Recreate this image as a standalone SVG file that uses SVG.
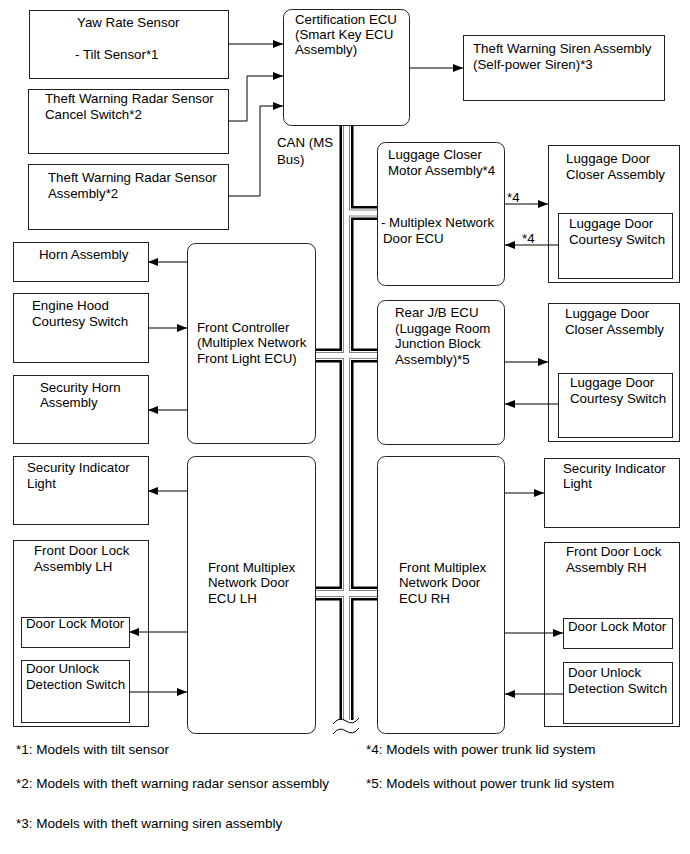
<svg xmlns="http://www.w3.org/2000/svg" width="690" height="854" viewBox="0 0 690 854">
<defs>
<style>
.b{fill:#fff;stroke:#222;stroke-width:1}
.t{font-family:"Liberation Sans",Arial,sans-serif;font-size:13.3px;fill:#000}
.f{font-family:"Liberation Sans",Arial,sans-serif;font-size:13.5px;fill:#000}
.c{fill:none;stroke:#000;stroke-width:1}
.bus{fill:none}
</style>
<marker id="ah" markerUnits="userSpaceOnUse" markerWidth="10" markerHeight="8" refX="10" refY="4" orient="auto">
<path d="M0,0 L10,4 L0,8 z" fill="#000"/>
</marker>
</defs>
<rect width="690" height="854" fill="#fff"/>
<g id="yaw"><rect class="b" x="29.5" y="10.5" width="199" height="68"/><text class="t" x="77" y="27">Yaw Rate Sensor</text><text class="t" x="75" y="59">- Tilt Sensor*1</text></g>
<g id="cancel"><rect class="b" x="28.5" y="89.5" width="200" height="64"/><text class="t" x="45" y="103">Theft Warning Radar Sensor</text><text class="t" x="45" y="119">Cancel Switch*2</text></g>
<g id="radar"><rect class="b" x="28.5" y="164.5" width="200" height="65"/><text class="t" x="48" y="182">Theft Warning Radar Sensor</text><text class="t" x="48" y="198">Assembly*2</text></g>
<g id="cert"><rect class="b" x="283.5" y="9.5" width="126" height="116" rx="8"/><text class="t" x="295" y="24">Certification ECU</text><text class="t" x="295" y="39">(Smart Key ECU</text><text class="t" x="295" y="54">Assembly)</text></g>
<g id="can"><text class="t" x="277" y="147">CAN (MS</text><text class="t" x="277" y="164">Bus)</text></g>
<g id="siren"><rect class="b" x="463.5" y="35.5" width="201" height="65"/><text class="t" x="473" y="53">Theft Warning Siren Assembly</text><text class="t" x="473" y="69">(Self-power Siren)*3</text></g>
<g id="lcm"><rect class="b" x="377.5" y="142.5" width="127" height="143" rx="8"/><text class="t" x="388" y="159">Luggage Closer</text><text class="t" x="388" y="175">Motor Assembly*4</text><text class="t" x="381" y="227">- Multiplex Network</text><text class="t" x="383" y="243">Door ECU</text></g>
<g id="ldca1"><rect class="b" x="548.5" y="145.5" width="131" height="137"/><text class="t" x="566" y="163">Luggage Door</text><text class="t" x="566" y="179">Closer Assembly</text></g>
<g id="ldcs1"><rect class="b" x="558.5" y="213.5" width="114" height="65"/><text class="t" x="569" y="228">Luggage Door</text><text class="t" x="569" y="244">Courtesy Switch</text></g>
<g id="rearjb"><rect class="b" x="377.5" y="300.5" width="127" height="144" rx="8"/><text class="t" x="395" y="317">Rear J/B ECU</text><text class="t" x="395" y="333">(Luggage Room</text><text class="t" x="395" y="348">Junction Block</text><text class="t" x="395" y="364">Assembly)*5</text></g>
<g id="ldca2"><rect class="b" x="548.5" y="303.5" width="131" height="138"/><text class="t" x="565" y="318">Luggage Door</text><text class="t" x="565" y="334">Closer Assembly</text></g>
<g id="ldcs2"><rect class="b" x="558.5" y="373.5" width="114" height="64"/><text class="t" x="570" y="387">Luggage Door</text><text class="t" x="570" y="403">Courtesy Switch</text></g>
<g id="horn"><rect class="b" x="13.5" y="242.5" width="135" height="39"/><text class="t" x="39" y="259">Horn Assembly</text></g>
<g id="hood"><rect class="b" x="13.5" y="293.5" width="135" height="69"/><text class="t" x="32" y="310">Engine Hood</text><text class="t" x="32" y="326">Courtesy Switch</text></g>
<g id="sechorn"><rect class="b" x="13.5" y="375.5" width="135" height="68"/><text class="t" x="40" y="392">Security Horn</text><text class="t" x="40" y="407">Assembly</text></g>
<g id="fc"><rect class="b" x="187.5" y="243.5" width="128" height="200" rx="8"/><text class="t" x="197" y="332">Front Controller</text><text class="t" x="197" y="347">(Multiplex Network</text><text class="t" x="197" y="363">Front Light ECU)</text></g>
<g id="secindl"><rect class="b" x="13.5" y="456.5" width="135" height="68"/><text class="t" x="27" y="472">Security Indicator</text><text class="t" x="27" y="488">Light</text></g>
<g id="fdlal"><rect class="b" x="13.5" y="540.5" width="135" height="186"/><text class="t" x="34" y="555">Front Door Lock</text><text class="t" x="34" y="571">Assembly LH</text></g>
<g id="dlml"><rect class="b" x="21.5" y="617.5" width="108" height="30"/><text class="t" x="26" y="628">Door Lock Motor</text></g>
<g id="dudsl"><rect class="b" x="21.5" y="660.5" width="108" height="62"/><text class="t" x="26" y="673">Door Unlock</text><text class="t" x="26" y="689">Detection Switch</text></g>
<g id="lhecu"><rect class="b" x="187.5" y="456.5" width="128" height="277" rx="8"/><text class="t" x="208" y="572">Front Multiplex</text><text class="t" x="208" y="587">Network Door</text><text class="t" x="208" y="603">ECU LH</text></g>
<g id="rhecu"><rect class="b" x="377.5" y="456.5" width="127" height="277" rx="8"/><text class="t" x="399" y="572">Front Multiplex</text><text class="t" x="399" y="587">Network Door</text><text class="t" x="399" y="603">ECU RH</text></g>
<g id="secindr"><rect class="b" x="544.5" y="458.5" width="135" height="69"/><text class="t" x="563" y="473">Security Indicator</text><text class="t" x="563" y="488">Light</text></g>
<g id="fdlar"><rect class="b" x="544.5" y="542.5" width="135" height="184"/><text class="t" x="566" y="556">Front Door Lock</text><text class="t" x="566" y="572">Assembly RH</text></g>
<g id="dlmr"><rect class="b" x="563.5" y="618.5" width="109" height="30"/><text class="t" x="568" y="631">Door Lock Motor</text></g>
<g id="dudsr"><rect class="b" x="563.5" y="662.5" width="109" height="61"/><text class="t" x="568" y="677">Door Unlock</text><text class="t" x="568" y="693">Detection Switch</text></g>
<g id="notes">
<text class="f" x="16" y="754">*1: Models with tilt sensor</text>
<text class="f" x="16" y="788">*2: Models with theft warning radar sensor assembly</text>
<text class="f" x="16" y="828">*3: Models with theft warning siren assembly</text>
<text class="f" x="366" y="754">*4: Models with power trunk lid system</text>
<text class="f" x="366" y="788">*5: Models without power trunk lid system</text>
</g>
<g id="connectors">
<g id="bus">
<path class="bus" stroke="#000" stroke-width="14" d="M346.5,126 V720 M346.5,213 H377 M316,355.5 H377 M316,593.5 H377"/>
<path class="bus" stroke="#fff" stroke-width="9" d="M346.5,126 V720 M346.5,213 H377 M316,355.5 H377 M316,593.5 H377"/>
<path class="bus" stroke="#888" stroke-width="7" d="M346.5,126 V720 M346.5,213 H377 M316,355.5 H377 M316,593.5 H377"/>
<path class="bus" stroke="#fff" stroke-width="5" d="M346.5,126 V720 M346.5,213 H377 M316,355.5 H377 M316,593.5 H377"/>
<path class="c" d="M333,724 Q339,716 346,721 T359,718"/>
<path class="c" d="M333,734 Q339,726 346,731 T359,728"/>
</g>
<path class="c" marker-end="url(#ah)" d="M228,44 H283"/>
<path class="c" marker-end="url(#ah)" d="M228,121 H247 V76 H283"/>
<path class="c" marker-end="url(#ah)" d="M228,196 H260 V106 H283"/>
<path class="c" marker-end="url(#ah)" d="M410,68 H463"/>
<path class="c" marker-end="url(#ah)" d="M505,204 H548"/>
<text class="t" x="507" y="202">*4</text>
<path class="c" marker-end="url(#ah)" d="M558,245 H505"/>
<text class="t" x="522" y="243">*4</text>
<path class="c" marker-end="url(#ah)" d="M505,362 H548"/>
<path class="c" marker-end="url(#ah)" d="M558,404 H505"/>
<path class="c" marker-end="url(#ah)" d="M187,262 H148"/>
<path class="c" marker-end="url(#ah)" d="M148,328 H187"/>
<path class="c" marker-end="url(#ah)" d="M187,410 H148"/>
<path class="c" marker-end="url(#ah)" d="M187,491 H148"/>
<path class="c" marker-end="url(#ah)" d="M187,632 H129"/>
<path class="c" marker-end="url(#ah)" d="M129,692 H187"/>
<path class="c" marker-end="url(#ah)" d="M505,493 H544"/>
<path class="c" marker-end="url(#ah)" d="M505,633 H563"/>
<path class="c" marker-end="url(#ah)" d="M563,694 H505"/>
</g>
</svg>
